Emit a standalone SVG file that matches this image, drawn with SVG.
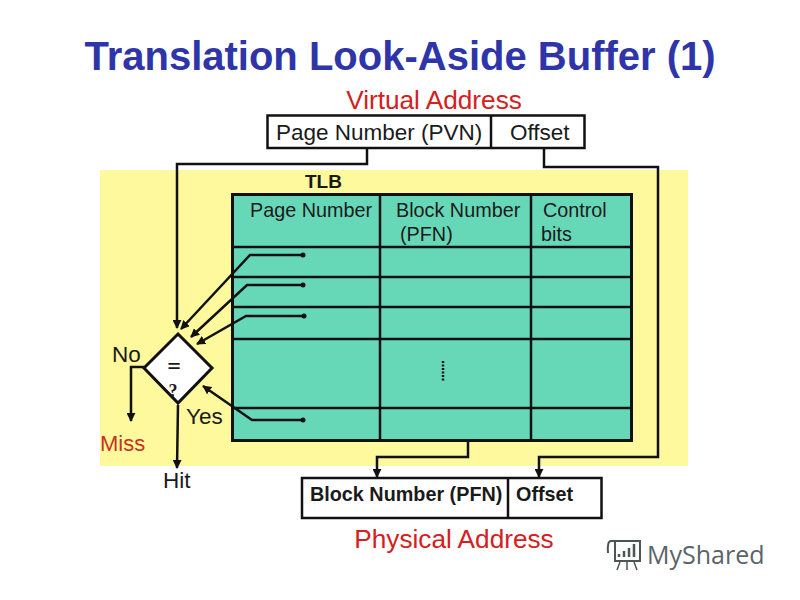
<svg xmlns="http://www.w3.org/2000/svg" width="800" height="600" viewBox="0 0 800 600">
<style>
text{font-family:"Liberation Sans",Arial,sans-serif;fill:#1a1a1a}
.h{font-size:19.800px}
.b{font-size:19.800px;font-weight:bold}
.l{font-size:22.500px}
.v{font-size:22.500px}
.r{fill:#d42020;font-size:26.200px}
.box{fill:#fff;stroke:#111;stroke-width:2.500}
.g{stroke:#111;stroke-width:2.500;fill:none}
.c{stroke:#111;stroke-width:2.500;fill:none;stroke-linejoin:miter}
.d{fill:#111}
</style>
<defs>
<marker id="a" viewBox="0 0 10 10" refX="9" refY="5" markerWidth="9" markerHeight="9" markerUnits="userSpaceOnUse" orient="auto"><path d="M0 0L10 5L0 10Z" fill="#111"/></marker>
</defs>
<rect width="800" height="600" fill="#fff"/>
<text x="400" y="70" text-anchor="middle" style="font-size:40px;font-weight:bold;fill:#2e35a8">Translation Look-Aside Buffer (1)</text>
<rect id="tlb-bg" x="100" y="170" width="588" height="296" fill="#fdf99c"/>
<g id="tlb-table">
<rect x="232.500" y="194.500" width="399" height="246" fill="#66d8b8" stroke="#111" stroke-width="3"/>
<path class="g" d="M232 247H632M232 277H632M232 307H632M232 339H632M232 408H632M380 194V440M531 194V440"/>
<text class="h" x="250" y="217">Page Number</text>
<text class="h" x="396" y="217">Block Number</text>
<text class="h" x="400" y="241">(PFN)</text>
<text class="h" x="543" y="217">Control</text>
<text class="h" x="541" y="241">bits</text>
<path d="M443 361V382" stroke="#111" stroke-width="2.500" stroke-dasharray="2 1.500" fill="none"/>
</g>
<text id="tlb-label" class="b" x="305" y="188" style="font-size:19px">TLB</text>
<text id="virtual-label" class="r" x="434" y="109" text-anchor="middle">Virtual Address</text>
<g id="virtual-address">
<rect class="box" x="267.500" y="115.500" width="317" height="32.500"/>
<path class="g" d="M491 115V148"/>
<text class="v" x="276" y="140">Page Number (PVN)</text>
<text class="v" x="510" y="140">Offset</text>
</g>
<g id="physical-address">
<rect class="box" x="302" y="478" width="299.500" height="40"/>
<path class="g" d="M508 478V518"/>
<text class="b" x="310" y="501">Block Number (PFN)</text>
<text class="b" x="516" y="501">Offset</text>
</g>
<text id="physical-label" class="r" x="454" y="548" text-anchor="middle">Physical Address</text>
<g id="comparator">
<path d="M178 334L212 368L178 403L144 368Z" fill="#fff" stroke="#111" stroke-width="3"/>
<text x="174" y="374" text-anchor="middle" style="font-size:24px;font-weight:bold;font-family:'Liberation Serif',serif">=</text>
<text x="173" y="397" text-anchor="middle" style="font-size:18px;font-weight:bold;font-family:'Liberation Serif',serif">?</text>
</g>
<g id="connectors">
<path class="c" d="M367 148V164H177V328" marker-end="url(#a)"/>
<path class="c" d="M544 148V167H658V457H539V477" marker-end="url(#a)"/>
<path class="c" d="M468 440V457H377V477" marker-end="url(#a)"/>
<path class="c" d="M303 255H250L181 329" marker-end="url(#a)"/>
<path class="c" d="M303 285H247L191 337" marker-end="url(#a)"/>
<path class="c" d="M304 316H246L197 344" marker-end="url(#a)"/>
<path class="c" d="M303 420H252L203 386" marker-end="url(#a)"/>
<path class="c" d="M144 367H131V421" marker-end="url(#a)"/>
<path class="c" d="M178 405L177 468" marker-end="url(#a)"/>
<circle class="d" cx="303" cy="255" r="2.500"/>
<circle class="d" cx="303" cy="285" r="2.500"/>
<circle class="d" cx="304" cy="316" r="2.500"/>
<circle class="d" cx="303" cy="420" r="2.500"/>
</g>
<text class="l" x="112" y="362">No</text>
<text class="l" x="186" y="424">Yes</text>
<text x="100" y="451" style="font-size:22px;fill:#c8321e">Miss</text>
<text class="l" x="163" y="488">Hit</text>
<g id="watermark">
<path d="M611 541H640V561H615V541M611 541Q607 541 608 553" fill="none" stroke="#4d5555" stroke-width="2"/>
<path d="M619 557V554M624 557V551M629 557V548M634 557V544" stroke="#4d5555" stroke-width="2.500"/>
<path d="M620 562L617 570M627 562V570M634 562L637 570" stroke="#4d5555" stroke-width="1.500"/>
<text x="647" y="564" style="font-size:25px;fill:#5b6468;font-family:'Open Sans',sans-serif">MyShared</text>
</g>
</svg>
